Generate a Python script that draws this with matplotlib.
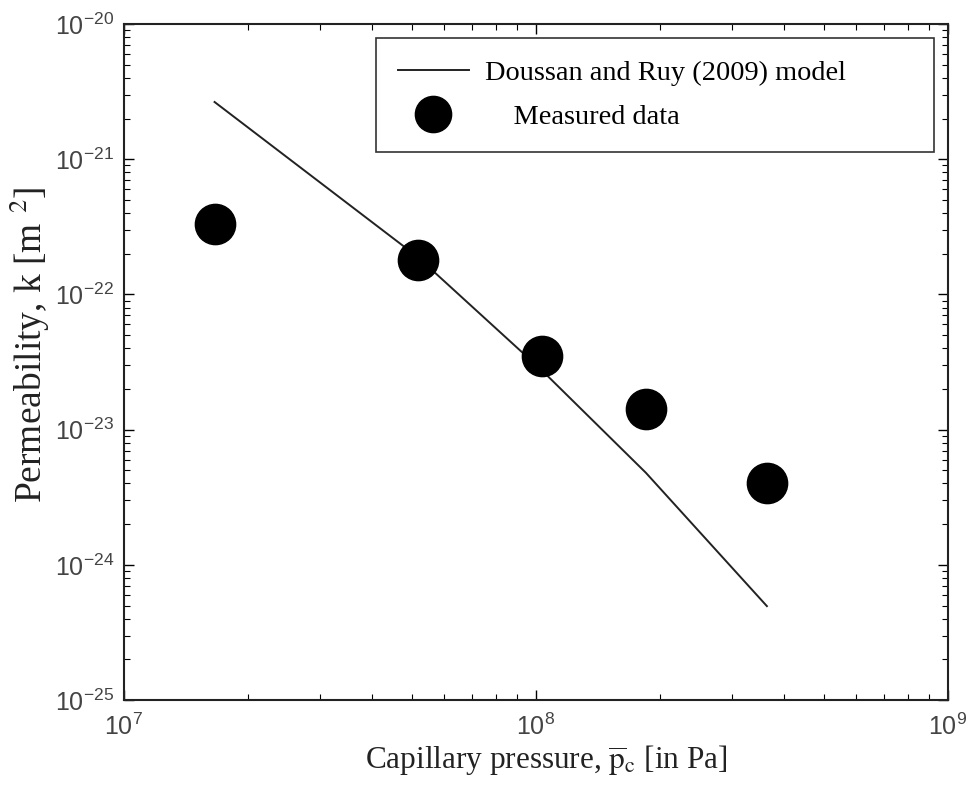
import matplotlib
matplotlib.use("Agg")
import matplotlib.pyplot as plt
import numpy as np

# Data
pressure_measured = [1.66e7, 5.17e7, 1.034e8, 1.85e8, 3.64e8]
perm_measured = [3.3e-22, 1.8e-22, 3.5e-23, 1.43e-23, 4.0e-24]

pressure_model = [1.66e7, 5.17e7, 1.034e8, 1.85e8, 3.64e8]
perm_model = [2.65e-21, 1.89e-22, 2.75e-23, 4.8e-24, 4.95e-25]

model_label = "Doussan and Ruy (2009) model"
measured_label = "    Measured data"

plt.rcParams['mathtext.fontset'] = 'stix'

fig = plt.figure(figsize=(9.68, 7.87), dpi=100)
ax = fig.add_axes([0.128, 0.1105, 0.851, 0.859])

ax.plot(pressure_model, perm_model, color='#222222', lw=1.4, label=model_label)
ax.plot(pressure_measured, perm_measured, 'o', color='black', markersize=29,
        linestyle='none', label=measured_label)

ax.set_xscale('log')
ax.set_yscale('log')
ax.set_xlim(1e7, 1e9)
ax.set_ylim(1e-25, 1e-20)

serif = 'Liberation Serif'
ax.set_xlabel(r'Capillary pressure, $\overline{\mathrm{p}}_{\mathrm{c}}$ [in Pa]',
              fontsize=22.5, family=serif, color='#222222')
ax.set_ylabel(r'Permeability, k [m $^{2}$]', fontsize=27, family=serif,
              color='#222222')
ax.xaxis.set_label_coords(0.513, -0.064)
ax.yaxis.set_label_coords(-0.087, 0.526)

ax.tick_params(which='both', direction='in', top=True, right=True)
ax.tick_params(which='major', length=7, width=1, labelsize=18, labelcolor='#444444')
ax.tick_params(axis='y', which='major', pad=7)
ax.tick_params(axis='x', which='major', pad=10)
ax.tick_params(which='minor', length=4, width=0.8)
for lbl in ax.get_xticklabels() + ax.get_yticklabels():
    lbl.set_family('Liberation Sans')
for s in ax.spines.values():
    s.set_linewidth(1.5)
    s.set_color('#222222')

leg = ax.legend(loc='upper left', bbox_to_anchor=(0.306, 0.0, 0.678, 0.979),
                mode='expand', borderaxespad=0,
                prop={'family': serif, 'size': 20.4},
                fancybox=False, edgecolor='#333333', framealpha=1,
                handlelength=2.5, handletextpad=0.57, markerscale=0.9,
                borderpad=0.78, labelspacing=0.64, numpoints=1)
leg.get_frame().set_linewidth(1.2)

fig.savefig('out.png', dpi=100)
